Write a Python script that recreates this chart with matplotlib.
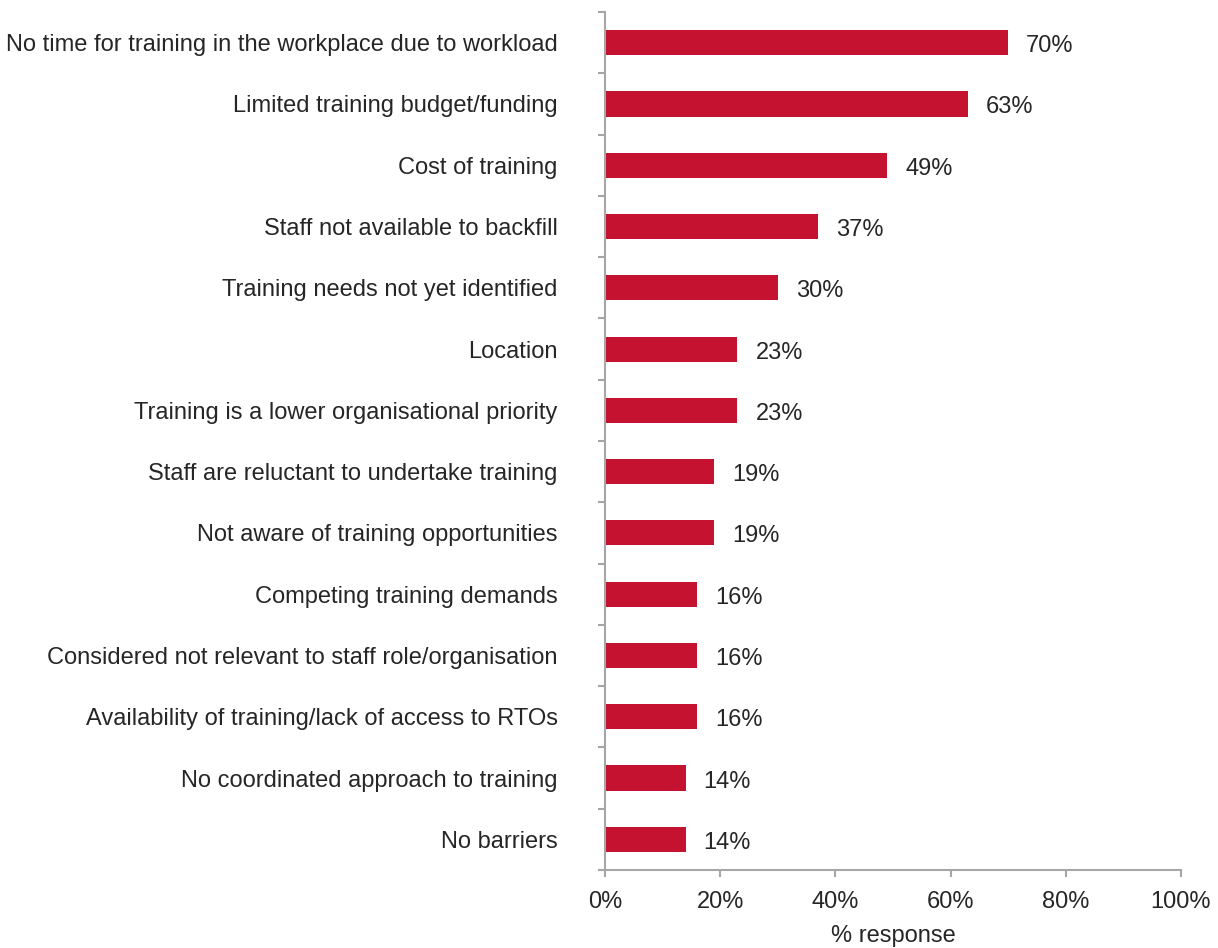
import matplotlib
matplotlib.use("Agg")
import matplotlib.pyplot as plt
import numpy as np

categories = [
    "No time for training in the workplace due to workload",
    "Limited training budget/funding",
    "Cost of training",
    "Staff not available to backfill",
    "Training needs not yet identified",
    "Location",
    "Training is a lower organisational priority",
    "Staff are reluctant to undertake training",
    "Not aware of training opportunities",
    "Competing training demands",
    "Considered not relevant to staff role/organisation",
    "Availability of training/lack of access to RTOs",
    "No coordinated approach to training",
    "No barriers",
]
values = [70, 63, 49, 37, 30, 23, 23, 19, 19, 16, 16, 16, 14, 14]
xtick_values = [0, 20, 40, 60, 80, 100]
xtick_labels = ["0%", "20%", "40%", "60%", "80%", "100%"]

plt.rcParams['font.family'] = ['Liberation Sans', 'DejaVu Sans']

BAR = '#C41230'
AXIS = '#A6A6A6'
TEXT = '#262626'
FS = 17

fig = plt.figure(figsize=(12.18, 9.48), dpi=100)
ax = fig.add_axes([0.4967, 0.0823, 0.4729, 0.905])

n = len(categories)
pos = np.arange(n)
ax.barh(pos, values, height=0.41, color=BAR)
ax.set_ylim(n - 0.5, -0.5)
ax.set_xlim(0, 100)

for p, v in zip(pos, values):
    ax.annotate(f"{v}%", (v, p), xytext=(13, -2.5), textcoords='offset points',
                va='center', ha='left', fontsize=FS, color=TEXT)

ax.set_yticks(pos)
ax.set_yticklabels(categories, fontsize=FS, color=TEXT)
ax.tick_params(axis='y', which='major', length=0, pad=34)
ax.set_yticks(np.arange(-0.5, n, 1.0), minor=True)
ax.tick_params(axis='y', which='minor', length=5, width=1.5, color=AXIS, direction='out')

ax.set_xticks(xtick_values)
ax.set_xticklabels(xtick_labels, fontsize=FS, color=TEXT)
ax.tick_params(axis='x', length=5, width=1.5, color=AXIS, direction='out', pad=10)
ax.set_xlabel("% response", fontsize=FS, color=TEXT, labelpad=9)

for side in ('top', 'right'):
    ax.spines[side].set_visible(False)
for side in ('left', 'bottom'):
    ax.spines[side].set_color(AXIS)
    ax.spines[side].set_linewidth(1.5)

fig.savefig("out.png", dpi=100)
